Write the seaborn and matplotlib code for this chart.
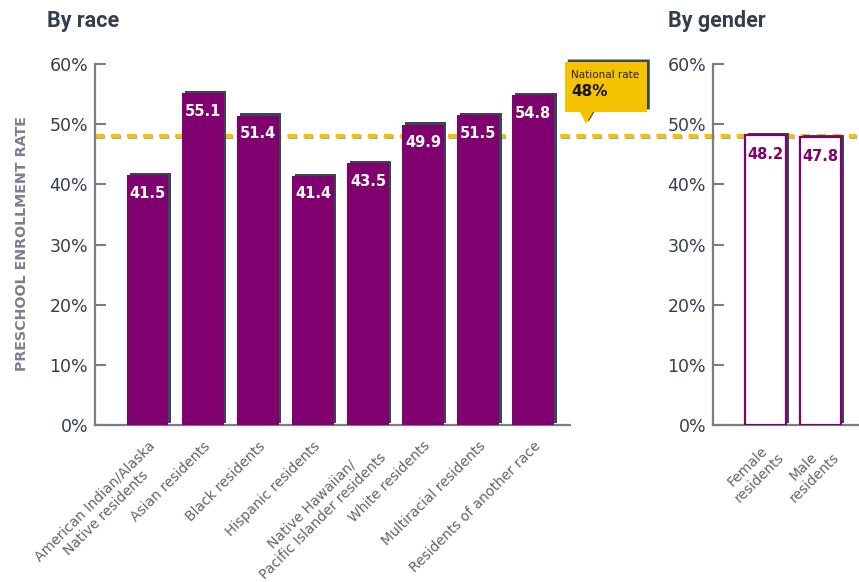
import matplotlib
matplotlib.use("Agg")
import matplotlib.pyplot as plt
import matplotlib.patheffects as pe
from matplotlib.patches import Polygon
import seaborn as sns
import numpy as np

race_labels = ["American Indian/Alaska\nNative residents", "Asian residents", "Black residents",
               "Hispanic residents", "Native Hawaiian/\nPacific Islander residents",
               "White residents", "Multiracial residents", "Residents of another race"]
race_values = [41.5, 55.1, 51.4, 41.4, 43.5, 49.9, 51.5, 54.8]
gender_labels = ["Female\nresidents", "Male\nresidents"]
gender_values = [48.2, 47.8]
national_rate = 48
y_ticks = [0, 10, 20, 30, 40, 50, 60]
y_tick_labels = ["0%", "10%", "20%", "30%", "40%", "50%", "60%"]

PURPLE = "#800070"
SHADOW = "#3b4653"
GOLD = "#F5C200"
AXGRAY = "#7a7d88"
TEXT = "#333f4d"
LABGRAY = "#5f6470"

sns.set_theme(style="white")
plt.rcParams['font.family'] = ['DejaVu Sans']

W, H = 859, 582
fig = plt.figure(figsize=(W / 100, H / 100), dpi=100)

def fx(px):
    return px / W

def fy(py):
    return 1 - py / H

ax1 = fig.add_axes([fx(95), fy(425), fx(570) - fx(95), fy(64) - fy(425)])
ax2 = fig.add_axes([fx(713), fy(425), fx(858) - fx(713), fy(64) - fy(425)])
ax2.set_facecolor("none")

shadow_fx = [pe.SimplePatchShadow(offset=(2.0, 1.7), shadow_rgbFace=SHADOW, alpha=1.0), pe.Normal()]

sns.barplot(x=list(range(len(race_values))), y=race_values, color=PURPLE, saturation=1,
            width=0.75, ax=ax1, zorder=3)
for p in ax1.patches:
    p.set_path_effects(shadow_fx)
    p.set_edgecolor("none")

sns.barplot(x=list(range(len(gender_values))), y=gender_values, color="white", saturation=1,
            width=0.74, ax=ax2, zorder=3)
for p in ax2.patches:
    p.set_facecolor("white")
    p.set_edgecolor(PURPLE)
    p.set_linewidth(1.6)
    p.set_path_effects(shadow_fx)

# national rate line
ln = ax1.axhline(national_rate, xmin=0, xmax=(856 - 95) / 475, color=GOLD, lw=3,
                 dashes=(2.15, 1.7), clip_on=False, zorder=1)
ln.set_path_effects([pe.SimpleLineShadow(offset=(0.7, -0.7), shadow_color="#6a707a", alpha=0.6), pe.Normal()])

for ax, labels, xlim in [(ax1, race_labels, (-0.96, 7.67)), (ax2, gender_labels, (-0.95, 1.67))]:
    ax.set_ylim(0, 60)
    ax.set_xlim(*xlim)
    ax.set_yticks(y_ticks)
    ax.set_yticklabels(y_tick_labels, fontsize=12.5, color=TEXT)
    ax.set_xticks(range(len(labels)))
    ax.set_xticklabels(labels, rotation=45, ha="right", rotation_mode="anchor",
                       fontsize=10, color=LABGRAY, multialignment="center")
    ax.tick_params(axis="y", direction="in", length=8, width=1.5, color=AXGRAY, pad=5, left=True)
    ax.tick_params(axis="x", length=0, pad=10)
    for s in ["top", "right"]:
        ax.spines[s].set_visible(False)
    for s in ["left", "bottom"]:
        ax.spines[s].set_color(AXGRAY)
        ax.spines[s].set_linewidth(1.6)
    ax.set_xlabel("")
    ax.set_ylabel("")
    ax.grid(False)

for i, v in enumerate(race_values):
    ax1.annotate(f"{v}", (i, v), xytext=(0, -13), textcoords="offset points",
                 ha="center", va="center", color="white", fontsize=10.5, fontweight="bold", zorder=5)
for i, v in enumerate(gender_values):
    ax2.annotate(f"{v}", (i, v), xytext=(0, -14), textcoords="offset points",
                 ha="center", va="center", color=PURPLE, fontsize=10.5, fontweight="bold", zorder=5)

# titles and axis label
fig.text(fx(47), fy(21), "By race", fontsize=15.5, fontweight="bold", color=TEXT, va="center", ha="left",
         family=["Roboto", "DejaVu Sans"])
fig.text(fx(668), fy(21), "By gender", fontsize=15.5, fontweight="bold", color=TEXT, va="center", ha="left",
         family=["Roboto", "DejaVu Sans"])
fig.text(fx(22), fy(244), "PRESCHOOL ENROLLMENT RATE", rotation=90, fontsize=10.3, color="#7a7e8e",
         fontweight="bold", va="center", ha="center")

# callout
pts = [(565, 62), (647, 62), (647, 112), (593, 112), (586, 124), (580, 112), (565, 112)]
poly = Polygon([(fx(x), fy(y)) for x, y in pts], closed=True, facecolor=GOLD, edgecolor="none",
               transform=fig.transFigure, zorder=6)
poly.set_path_effects([pe.SimplePatchShadow(offset=(2.0, 1.8), shadow_rgbFace=SHADOW, alpha=1.0), pe.Normal()])
fig.add_artist(poly)
fig.text(fx(571), fy(75), "National rate", fontsize=7.5, color="#222222", va="center", ha="left", zorder=7)
fig.text(fx(571), fy(92), f"{national_rate}%", fontsize=11, fontweight="bold", color="#111111",
         va="center", ha="left", zorder=7)

fig.savefig("out.png", dpi=100)
